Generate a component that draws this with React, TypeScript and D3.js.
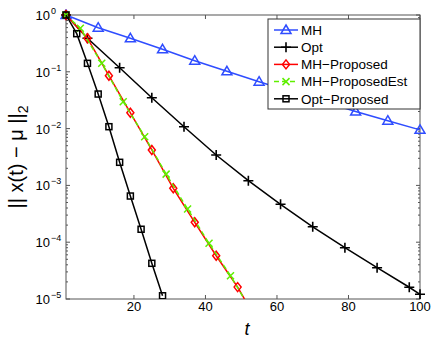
import React, { useEffect, useRef } from 'react'
import * as d3 from 'd3'

// iterations where markers sit, and error values
const mhT = [1, 10, 19, 28, 37, 46, 55, 64, 73, 82, 91, 100]
const mhV = [1, 0.597, 0.389, 0.249, 0.157, 0.102, 0.067, 0.0447, 0.0299, 0.02, 0.0138, 0.0095]

const optT = [1, 7, 16, 25, 34, 43, 52, 61, 70, 79, 88, 97, 100]
const optV = [1, 0.39, 0.118, 0.035, 0.0108, 0.00343, 0.00121, 0.000465, 0.000187, 0.00008, 0.0000356, 0.0000161, 0.0000121]

const mhpT = [1, 7, 13, 19, 25, 31, 37, 43, 49, 52]
const mhpV = [1, 0.39, 0.0853, 0.019, 0.0042, 0.00089, 0.000224, 0.0000578, 0.0000162, 0.0000076]

const mhpeT = [1, 5, 11, 17, 23, 29, 35, 41, 47, 52]
const mhpeV = [1, 0.583, 0.141, 0.0298, 0.0072, 0.00158, 0.000385, 0.0000955, 0.0000257, 0.0000076]

const oppT = [1, 4, 7, 10, 13, 16, 19, 22, 25, 28]
const oppV = [1, 0.469, 0.141, 0.0406, 0.0108, 0.00255, 0.00065, 0.000169, 0.0000425, 0.0000114]

const xTicks = [20, 40, 60, 80, 100]
const yExps = [0, -1, -2, -3, -4, -5]

const series = [
  { name: 'MH', t: mhT, v: mhV, color: '#2f4dff', marker: 'tri', dash: null },
  { name: 'Opt', t: optT, v: optV, color: '#000000', marker: 'plus', dash: null },
  { name: 'MH\u2212Proposed', t: mhpT, v: mhpV, color: '#ff0000', marker: 'diamond', dash: null },
  { name: 'MH\u2212ProposedEst', t: mhpeT, v: mhpeV, color: '#5fef00', marker: 'cross', dash: '5,3' },
  { name: 'Opt\u2212Proposed', t: oppT, v: oppV, color: '#000000', marker: 'square', dash: null },
]

const FONT = 'Liberation Sans, Arial, sans-serif'

function drawMarker(g, kind, x, y, color) {
  if (kind === 'tri') {
    g.append('path').attr('d', `M${x},${y - 5}L${x + 5},${y + 3.5}L${x - 5},${y + 3.5}Z`)
      .attr('fill', 'none').attr('stroke', color).attr('stroke-width', 1.5)
  } else if (kind === 'plus') {
    g.append('path').attr('d', `M${x - 5},${y}H${x + 5}M${x},${y - 5}V${y + 5}`)
      .attr('stroke', color).attr('stroke-width', 1.6)
  } else if (kind === 'diamond') {
    g.append('path').attr('d', `M${x},${y - 4.5}L${x + 3.5},${y}L${x},${y + 4.5}L${x - 3.5},${y}Z`)
      .attr('fill', 'none').attr('stroke', color).attr('stroke-width', 1.5)
  } else if (kind === 'cross') {
    g.append('path').attr('d', `M${x - 3.5},${y - 3.5}L${x + 3.5},${y + 3.5}M${x + 3.5},${y - 3.5}L${x - 3.5},${y + 3.5}`)
      .attr('stroke', color).attr('stroke-width', 1.5)
  } else if (kind === 'square') {
    g.append('rect').attr('x', x - 3).attr('y', y - 3).attr('width', 6).attr('height', 6)
      .attr('fill', 'none').attr('stroke', color).attr('stroke-width', 1.5)
  }
}

export default function App() {
  const ref = useRef(null)

  useEffect(() => {
    const svg = d3.select(ref.current)
    svg.selectAll('*').remove()

    const left = 66, right = 420, top = 15, bottom = 299
    const x = d3.scaleLinear().domain([1, 100]).range([left, right])
    const y = d3.scaleLog().domain([1e-5, 1]).range([bottom, top])

    svg.append('defs').append('clipPath').attr('id', 'plotclip')
      .append('rect').attr('x', left - 6).attr('y', top - 6)
      .attr('width', right - left + 12).attr('height', bottom - top + 6)

    const axisColor = '#555'
    const axes = svg.append('g')

    // box
    axes.append('rect').attr('x', left).attr('y', top).attr('width', right - left).attr('height', bottom - top)
      .attr('fill', 'none').attr('stroke', axisColor).attr('stroke-width', 1)

    // x ticks bottom/top
    xTicks.forEach(t => {
      const px = x(t)
      axes.append('line').attr('x1', px).attr('x2', px).attr('y1', bottom).attr('y2', bottom - 4)
        .attr('stroke', axisColor)
      axes.append('line').attr('x1', px).attr('x2', px).attr('y1', top).attr('y2', top + 4)
        .attr('stroke', axisColor)
      axes.append('text').attr('x', px).attr('y', 311).attr('text-anchor', 'middle')
        .attr('font-family', FONT).attr('font-size', 13)
        .text(t)
    })

    // y ticks, major and minor
    yExps.forEach(e => {
      const py = y(Math.pow(10, e))
      axes.append('line').attr('x1', left).attr('x2', left + 4).attr('y1', py).attr('y2', py).attr('stroke', axisColor)
      axes.append('line').attr('x1', right).attr('x2', right - 4).attr('y1', py).attr('y2', py).attr('stroke', axisColor)
      axes.append('text').attr('x', 50).attr('y', py + 5).attr('text-anchor', 'end')
        .attr('font-family', FONT).attr('font-size', 13).text('10')
      axes.append('text').attr('x', 51).attr('y', py - 1).attr('font-size', 9)
        .attr('font-family', FONT)
        .text(e === 0 ? '0' : '\u2212' + (-e))
      if (e > -5) {
        for (let m = 2; m <= 9; m++) {
          const my = y(m * Math.pow(10, e - 1))
          axes.append('line').attr('x1', left).attr('x2', left + 2).attr('y1', my).attr('y2', my).attr('stroke', axisColor)
          axes.append('line').attr('x1', right).attr('x2', right - 2).attr('y1', my).attr('y2', my).attr('stroke', axisColor)
        }
      }
    })

    // axis labels
    svg.append('text').attr('x', 247).attr('y', 335).attr('text-anchor', 'middle')
      .attr('font-family', FONT).attr('font-size', 18).attr('font-style', 'italic')
      .text('t')
    const yl = svg.append('text').attr('transform', `translate(23,${(top + bottom) / 2}) rotate(-90)`)
      .attr('text-anchor', 'middle').attr('font-family', FONT).attr('font-size', 20)
    yl.append('tspan').text('|| x(t) \u2212 \u03bc ||')
    yl.append('tspan').attr('font-size', 14).attr('dy', 5).text('2')

    // series
    const plot = svg.append('g').attr('clip-path', 'url(#plotclip)')
    const line = d3.line().x(d => x(d[0])).y(d => y(Math.max(d[1], 1e-7)))
    series.forEach(s => {
      const pts = s.t.map((t, i) => [t, s.v[i]])
      plot.append('path').attr('d', line(pts)).attr('fill', 'none').attr('stroke', s.color)
        .attr('stroke-width', 1.5).attr('stroke-dasharray', s.dash)
      pts.forEach(p => {
        if (p[1] >= 1e-5 * 0.99) drawMarker(plot, s.marker, x(p[0]), y(p[1]), s.color)
      })
    })

    // legend
    const lx = 268, ly = 19, lw = 152, lh = 90
    const lg = svg.append('g')
    lg.append('rect').attr('x', lx).attr('y', ly).attr('width', lw).attr('height', lh)
      .attr('fill', '#fff').attr('stroke', '#333').attr('stroke-width', 1)
    series.forEach((s, i) => {
      const yy = ly + 11 + i * 17.2
      lg.append('line').attr('x1', lx + 6).attr('x2', lx + 30).attr('y1', yy).attr('y2', yy)
        .attr('stroke', s.color).attr('stroke-width', 1.5).attr('stroke-dasharray', s.dash)
      drawMarker(lg, s.marker, lx + 18, yy, s.color)
      lg.append('text').attr('x', lx + 33).attr('y', yy + 4.8)
        .attr('font-family', FONT).attr('font-size', 13.5)
        .text(s.name)
    })
  }, [])

  return (
    <svg ref={ref} width={436} height={339}
      style={{ position: 'absolute', left: 0, top: 0, background: '#fff' }} />
  )
}
